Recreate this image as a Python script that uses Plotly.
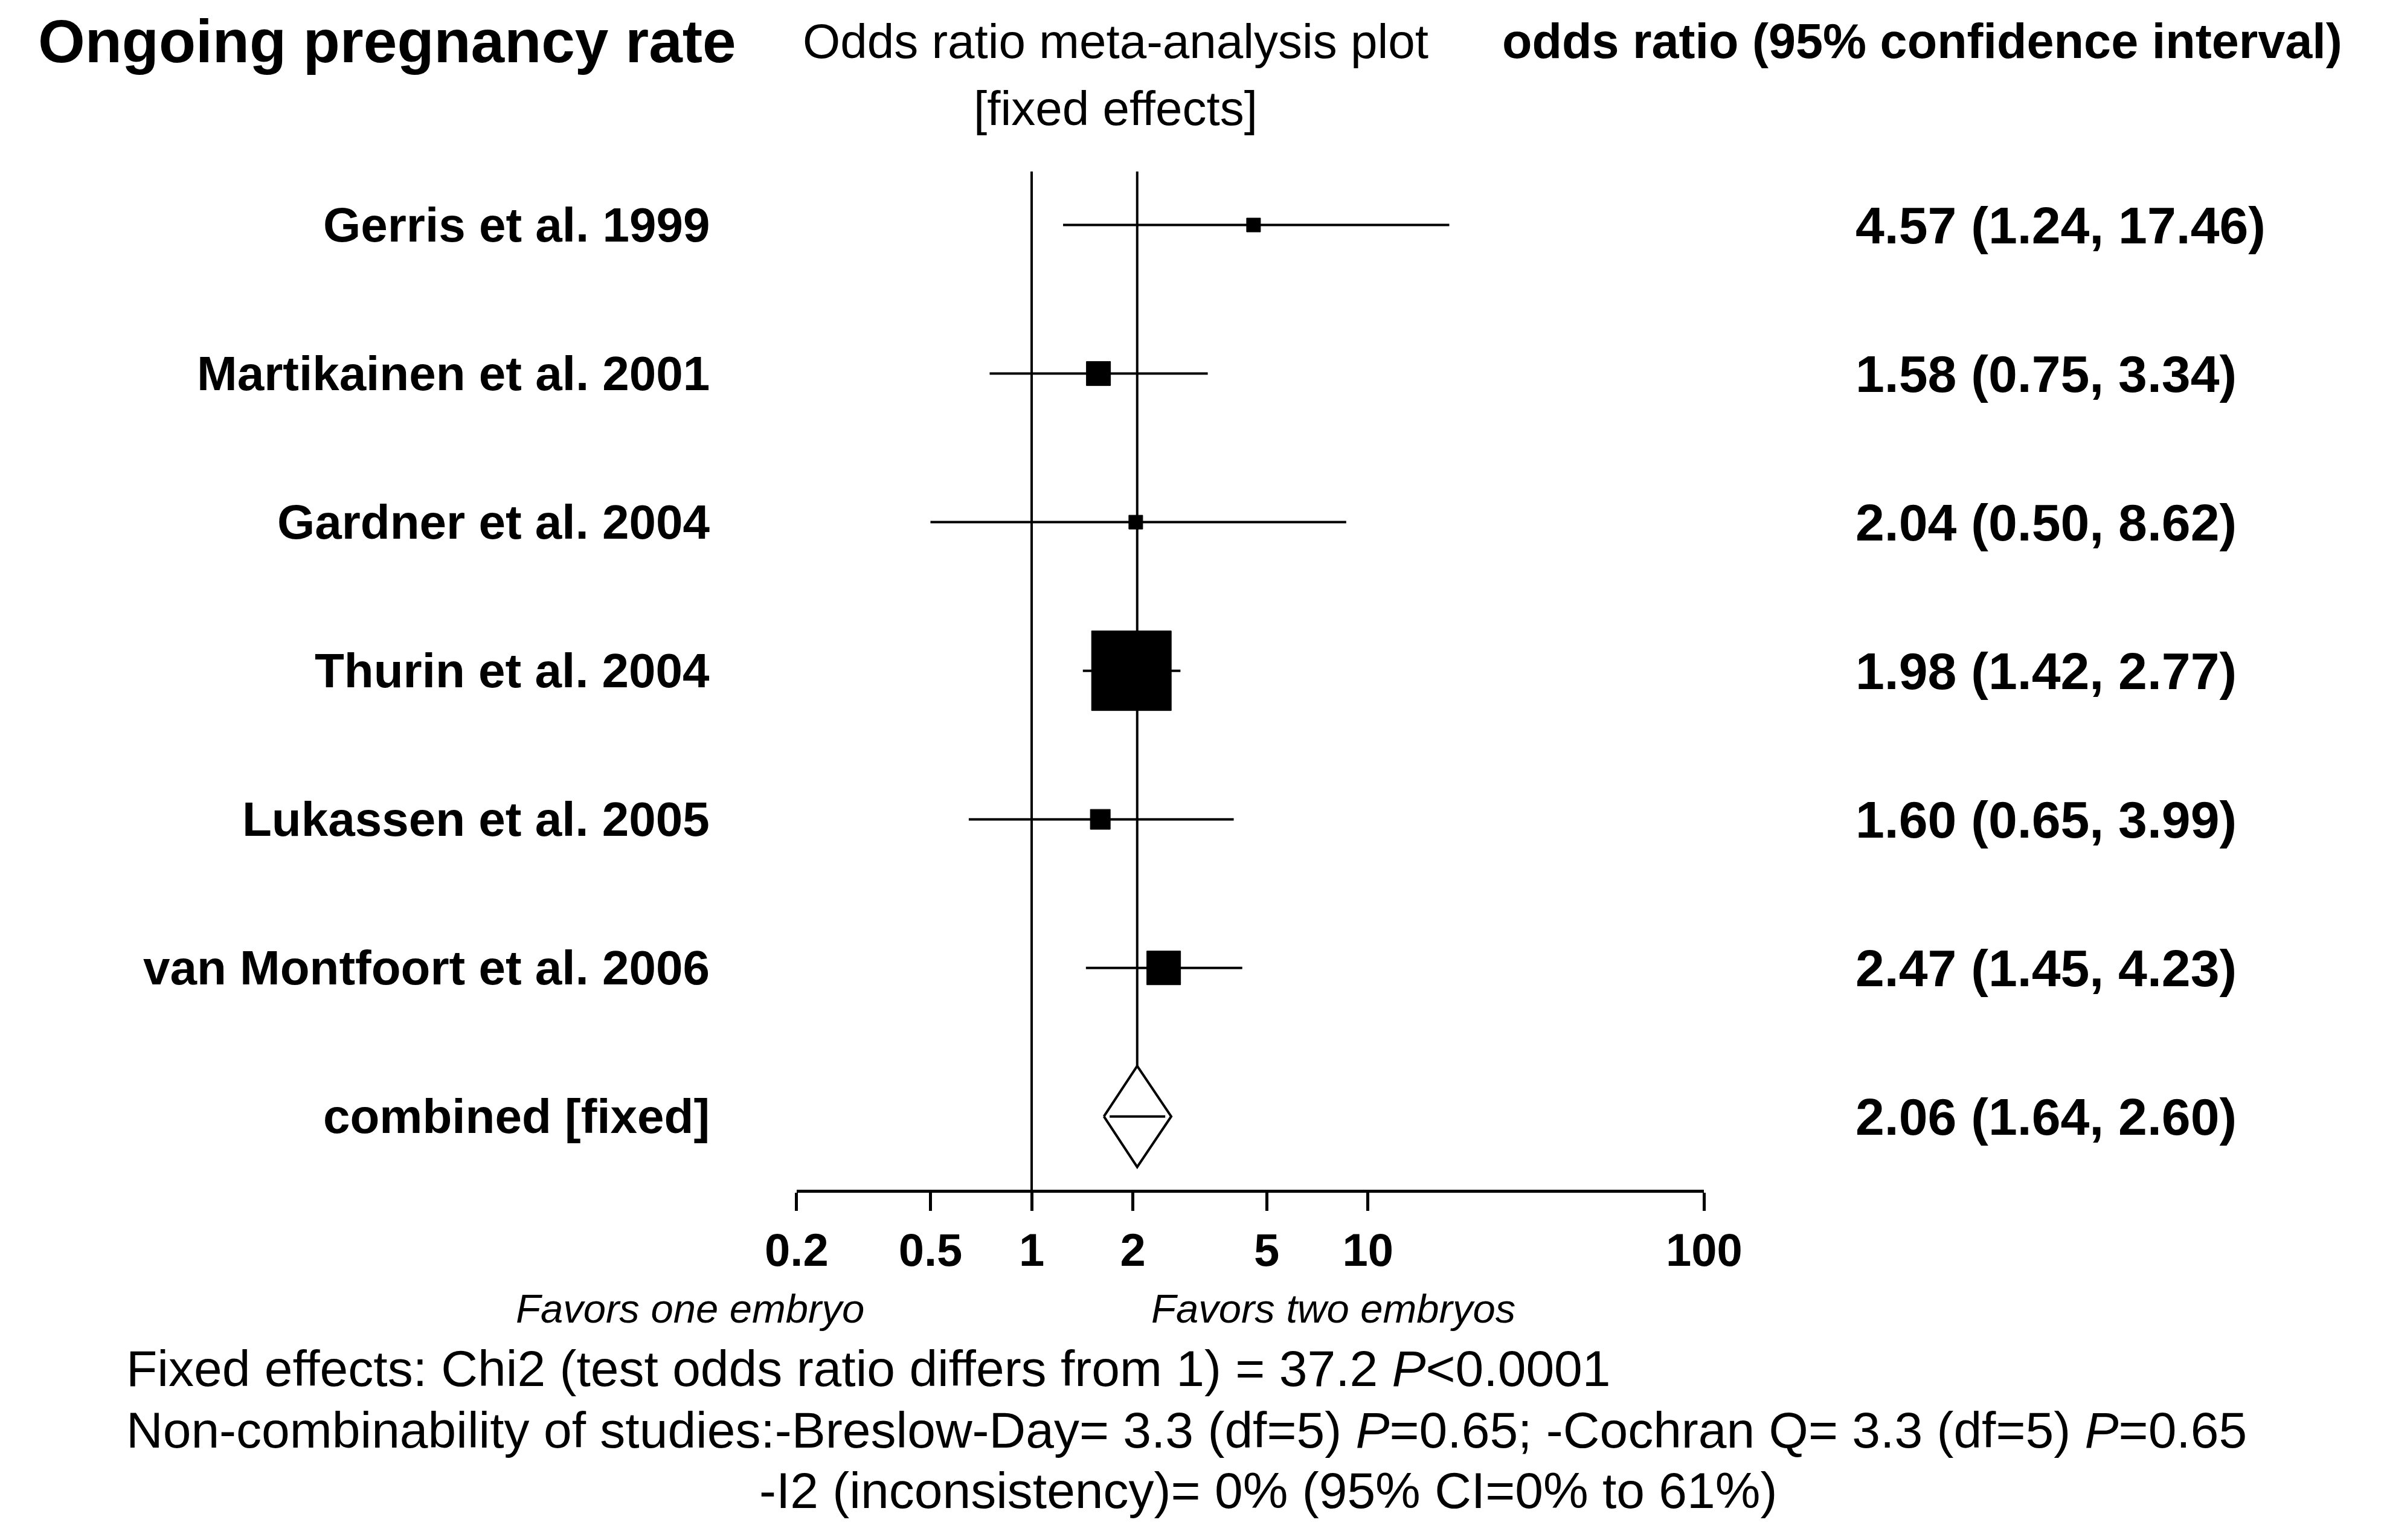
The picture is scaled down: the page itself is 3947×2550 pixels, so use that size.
import plotly.graph_objects as go

W, H = 3947, 2550

studies = ['Gerris et al. 1999', 'Martikainen et al. 2001', 'Gardner et al. 2004',
           'Thurin et al. 2004', 'Lukassen et al. 2005', 'van Montfoort et al. 2006']
odds = [4.57, 1.58, 2.04, 1.98, 1.60, 2.47]
lower = [1.24, 0.75, 0.50, 1.42, 0.65, 1.45]
upper = [17.46, 3.34, 8.62, 2.77, 3.99, 4.23]
weights = [23, 40, 23, 132, 33, 56]   # box size (px)
rows = [7, 6, 5, 4, 3, 2]

comb_label = 'combined [fixed]'
comb_or, comb_lo, comb_hi = 2.06, 1.64, 2.60
comb_row = 1

tick_vals = [0.2, 0.5, 1, 2, 5, 10, 100]
tick_text = ['0.2', '0.5', '1', '2', '5', '10', '100']

FONT = 'Liberation Sans, Arial'


def px(x):
    return x / W


def py(y):
    return 1 - y / H


fig = go.Figure()

# reference line at OR = 1
fig.add_trace(go.Scatter(x=[1, 1], y=[0.507, 7.36], mode='lines',
                         line=dict(color='black', width=4), hoverinfo='skip'))
# line at combined estimate
fig.add_trace(go.Scatter(x=[comb_or, comb_or], y=[comb_row + 0.34, 7.36], mode='lines',
                         line=dict(color='black', width=4), hoverinfo='skip'))

# confidence intervals
for r, lo, hi in zip(rows, lower, upper):
    fig.add_trace(go.Scatter(x=[lo, hi], y=[r, r], mode='lines',
                             line=dict(color='black', width=4), hoverinfo='skip'))

# study boxes
fig.add_trace(go.Scatter(x=odds, y=rows, mode='markers',
                         marker=dict(symbol='square', size=weights, color='black', opacity=1,
                                     line=dict(width=1, color='black'))))

# combined diamond
fig.add_trace(go.Scatter(x=[comb_lo, comb_or, comb_hi, comb_or, comb_lo],
                         y=[comb_row, comb_row + 0.34, comb_row, comb_row - 0.34, comb_row],
                         mode='lines', fill='toself', fillcolor='white',
                         line=dict(color='black', width=4), hoverinfo='skip'))
fig.add_trace(go.Scatter(x=[comb_lo * 1.04, comb_hi * 0.96], y=[comb_row, comb_row], mode='lines',
                         line=dict(color='black', width=4), hoverinfo='skip'))

fig.update_layout(
    width=W, height=H, showlegend=False,
    paper_bgcolor='white', plot_bgcolor='white',
    margin=dict(l=0, r=0, t=0, b=0),
    font=dict(family=FONT, color='black'),
    xaxis=dict(type='log', domain=[px(1296), px(2844)],
               range=[-0.699, 2.0], tickvals=tick_vals, ticktext=tick_text,
               ticks='outside', ticklen=30, tickwidth=5, tickcolor='black',
               showline=True, linewidth=5, linecolor='black', showgrid=False,
               zeroline=False, tickfont=dict(size=76, family=FONT, weight='bold')),
    yaxis=dict(domain=[py(1962), py(276)], range=[0.507, 7.36], visible=False),
)

# study labels and OR text
for r, s, o, lo, hi in zip(rows + [comb_row], studies + [comb_label],
                           odds + [comb_or], lower + [comb_lo], upper + [comb_hi]):
    fig.add_annotation(xref='paper', yref='y', x=px(1150), y=r, text=f'<b>{s}</b>',
                       showarrow=False, xanchor='right', font=dict(size=80))
    fig.add_annotation(xref='paper', yref='y', x=px(3100), y=r,
                       text=f'<b>{o:.2f} ({lo:.2f}, {hi:.2f})</b>',
                       showarrow=False, xanchor='left', font=dict(size=86))

ann = [
    (0, 60, '<b>Ongoing pregnancy rate</b>', 'left', 100),
    (1840, 60, 'Odds ratio meta-analysis plot', 'center', 80),
    (1840, 172, '[fixed effects]', 'center', 80),
    (3935, 60, '<b>odds ratio (95% confidence interval)</b>', 'right', 81),
    (1114, 2158, '<i>Favors one embryo</i>', 'center', 67),
    (2211, 2158, '<i>Favors two embryos</i>', 'center', 67),
    (150, 2258, 'Fixed effects: Chi2 (test odds ratio differs from 1) = 37.2 <i>P</i><0.0001', 'left', 84),
    (150, 2360, 'Non-combinability of studies:-Breslow-Day= 3.3 (df=5) <i>P</i>=0.65; -Cochran Q= 3.3 (df=5) <i>P</i>=0.65', 'left', 84),
    (1230, 2460, '-I2 (inconsistency)= 0% (95% CI=0% to 61%)', 'left', 84),
]
for x, y, t, anchor, size in ann:
    fig.add_annotation(xref='paper', yref='paper', x=px(x), y=py(y), text=t,
                       showarrow=False, xanchor=anchor, yanchor='middle', font=dict(size=size))

fig.write_html('out.html')
